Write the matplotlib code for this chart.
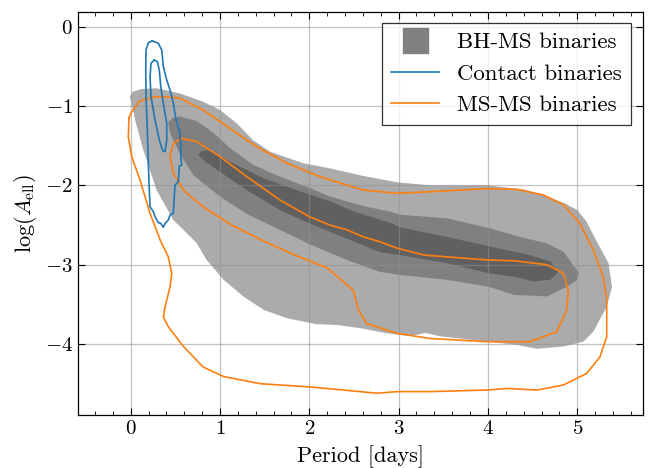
import numpy as np
import matplotlib
matplotlib.use("Agg")
import matplotlib.pyplot as plt
from matplotlib.ticker import MultipleLocator
from matplotlib.lines import Line2D

plt.rcParams['font.family'] = 'serif'
plt.rcParams['font.serif'] = ['cmr10', 'DejaVu Serif']
plt.rcParams['mathtext.fontset'] = 'cm'
plt.rcParams['axes.formatter.use_mathtext'] = True

# ---- contour outlines (Period [days], log A_ell) ----
bh_level1 = [(-0.01, -0.88), (0.02, -0.82), (0.12, -0.785), (0.29, -0.775), (0.55, -0.84),
             (0.81, -0.945), (1.0, -1.05), (1.19, -1.22), (1.37, -1.43), (1.56, -1.575),
             (1.93, -1.72), (2.23, -1.785), (2.6, -1.88), (2.98, -1.96), (3.35, -2.0),
             (3.99, -2.0), (4.4, -2.05), (4.62, -2.12), (4.85, -2.22), (5.0, -2.31),
             (5.1, -2.45), (5.22, -2.71), (5.35, -2.98), (5.39, -3.28), (5.33, -3.53),
             (5.18, -3.845), (5.07, -3.97), (4.85, -4.03), (4.55, -4.06), (4.32, -4.01),
             (3.99, -3.97), (3.6, -3.92), (3.45, -3.9), (3.3, -3.86), (3.13, -3.9),
             (2.87, -3.865), (2.57, -3.80), (2.31, -3.76), (2.08, -3.75), (1.75, -3.675),
             (1.49, -3.57), (1.26, -3.40), (1.04, -3.19), (0.85, -2.94), (0.74, -2.73),
             (0.59, -2.56), (0.48, -2.44), (0.29, -2.06), (0.14, -1.55), (0.05, -1.18),
             (0.01, -0.965)]
bh_level2 = [(0.42, -1.20), (0.47, -1.15), (0.55, -1.13), (0.74, -1.19), (0.93, -1.34),
             (1.11, -1.53), (1.37, -1.74), (1.67, -1.89), (2.0, -2.03), (2.23, -2.14),
             (2.6, -2.26), (2.9, -2.33), (3.02, -2.37), (3.54, -2.415), (4.02, -2.54),
             (4.36, -2.65), (4.66, -2.73), (4.85, -2.84), (4.95, -3.0), (5.02, -3.1),
             (4.99, -3.2), (4.88, -3.28), (4.66, -3.40), (4.29, -3.38), (4.02, -3.28),
             (3.54, -3.19), (3.02, -3.13), (2.79, -3.09), (2.42, -2.94), (2.0, -2.74),
             (1.67, -2.56), (1.30, -2.36), (1.0, -2.14), (0.7, -1.87), (0.55, -1.6),
             (0.44, -1.34)]
bh_level3 = [(0.78, -1.575), (0.87, -1.55), (1.11, -1.70), (1.49, -1.91), (1.86, -2.06),
             (2.23, -2.2), (2.5, -2.33), (2.9, -2.47), (3.02, -2.53), (3.54, -2.65),
             (4.02, -2.77), (4.47, -2.88), (4.70, -2.96), (4.79, -3.09), (4.70, -3.19),
             (4.51, -3.21), (4.29, -3.15), (4.02, -3.11), (3.54, -2.98), (3.02, -2.88),
             (2.79, -2.84), (2.42, -2.67), (2.0, -2.48), (1.67, -2.31), (1.30, -2.06),
             (1.0, -1.83), (0.81, -1.68), (0.76, -1.62)]

contact_outer = [(0.242, -0.179), (0.309, -0.208), (0.347, -0.293), (0.365, -0.503),
                 (0.403, -0.671), (0.44, -0.797), (0.477, -0.965), (0.507, -1.175),
                 (0.544, -1.301), (0.56, -1.469), (0.56, -1.638), (0.571, -1.743),
                 (0.544, -1.755), (0.533, -1.953), (0.496, -1.995), (0.485, -2.184),
                 (0.477, -2.352), (0.44, -2.373), (0.421, -2.436), (0.384, -2.478),
                 (0.365, -2.528), (0.336, -2.478), (0.309, -2.47), (0.272, -2.395),
                 (0.253, -2.332), (0.216, -2.269), (0.208, -2.058), (0.197, -1.721),
                 (0.186, -1.301), (0.171, -0.881), (0.168, -0.545), (0.171, -0.293),
                 (0.197, -0.2)]
contact_inner = [(0.264, -0.419), (0.298, -0.44), (0.32, -0.545), (0.336, -0.755),
                 (0.365, -0.965), (0.403, -1.217), (0.403, -1.427), (0.384, -1.575),
                 (0.358, -1.562), (0.32, -1.427), (0.272, -1.175), (0.227, -0.881),
                 (0.216, -0.629), (0.227, -0.46)]

msms_outer = [(-0.02, -1.15), (0.0, -1.09), (0.10, -0.935), (0.25, -0.889), (0.365, -0.881),
              (0.55, -0.90), (0.81, -1.05), (1.0, -1.196), (1.19, -1.343), (1.41, -1.512),
              (1.75, -1.72), (2.12, -1.89), (2.4, -1.99), (2.605, -2.058), (2.98, -2.10),
              (3.35, -2.08), (3.99, -2.04), (4.32, -2.05), (4.62, -2.12), (4.85, -2.25),
              (5.03, -2.48), (5.18, -2.815), (5.29, -3.15), (5.33, -3.445), (5.33, -3.908),
              (5.255, -4.161), (5.106, -4.37), (4.845, -4.517), (4.547, -4.58), (4.21, -4.56),
              (3.99, -4.58), (3.35, -4.60), (2.98, -4.60), (2.755, -4.62), (2.38, -4.58),
              (2.0, -4.54), (1.45, -4.50), (1.04, -4.41), (0.81, -4.29), (0.59, -4.03),
              (0.42, -3.78), (0.365, -3.656), (0.384, -3.53), (0.44, -3.28), (0.46, -3.11),
              (0.42, -2.90), (0.33, -2.69), (0.216, -2.352), (0.104, -1.932), (0.011, -1.638),
              (-0.027, -1.386)]
msms_inner = [(0.571, -1.406), (0.74, -1.448), (1.0, -1.638), (1.3, -1.89), (1.67, -2.184),
              (2.0, -2.394), (2.23, -2.50), (2.42, -2.56), (2.6, -2.647), (2.79, -2.71),
              (2.98, -2.79), (3.28, -2.878), (3.99, -2.94), (4.29, -2.95), (4.66, -3.0),
              (4.845, -3.109), (4.9, -3.319), (4.883, -3.571), (4.77, -3.845), (4.47, -3.97),
              (3.99, -3.97), (3.35, -3.93), (2.98, -3.865), (2.64, -3.74), (2.55, -3.57),
              (2.49, -3.32), (2.2, -3.04), (1.82, -2.87), (1.485, -2.70), (1.13, -2.50),
              (0.81, -2.27), (0.59, -2.058), (0.477, -1.848), (0.44, -1.638), (0.477, -1.469)]

series_labels = ['BH-MS binaries', 'Contact binaries', 'MS-MS binaries']
x_ticks = [0, 1, 2, 3, 4, 5]
y_ticks = [0, -1, -2, -3, -4]

fill_colors = ['#ababab', '#808080', '#606060']
blue = '#1f77b4'
orange = '#ff7f0e'


def closed(poly):
    a = np.array(poly + [poly[0]])
    return a[:, 0], a[:, 1]


fig = plt.figure(figsize=(6.54, 4.68), dpi=100)
ax = fig.add_axes([0.1188, 0.1132, 0.8639, 0.8618])

for poly, c in zip([bh_level1, bh_level2, bh_level3], fill_colors):
    xs, ys = closed(poly)
    ax.fill(xs, ys, color=c, lw=0, zorder=1)

for poly in [msms_outer, msms_inner]:
    xs, ys = closed(poly)
    ax.plot(xs, ys, color=orange, lw=1.2, zorder=3, solid_joinstyle='round')
for poly in [contact_outer, contact_inner]:
    xs, ys = closed(poly)
    ax.plot(xs, ys, color=blue, lw=1.2, zorder=4, solid_joinstyle='round')

ax.set_xlim(-0.594, 5.733)
ax.set_ylim(-4.895, 0.19)
ax.set_xticks(x_ticks)
ax.set_yticks(y_ticks)
ax.xaxis.set_minor_locator(MultipleLocator(0.2))
ax.tick_params(which='both', direction='in', top=True, right=True, labelsize=15)
ax.tick_params(which='major', length=5, width=0.8)
ax.tick_params(which='minor', length=3, width=0.6)
ax.set_axisbelow(False)
ax.grid(True, which='major', color='#909090', alpha=0.55, lw=0.9, zorder=2)
for s in ax.spines.values():
    s.set_linewidth(0.9)

ax.set_xlabel('Period [days]', fontsize=16, labelpad=5.5)
ax.set_ylabel(r'$\log(A_{\rm ell})$', fontsize=16, labelpad=4)

handles = [Line2D([], [], ls='none', marker='s', ms=18, color='#808080'),
           Line2D([], [], color=blue, lw=1.2),
           Line2D([], [], color=orange, lw=1.2)]
leg = ax.legend(handles, series_labels, loc='upper right', fontsize=16.5,
                fancybox=False, edgecolor='black', framealpha=0.8, handlelength=2.1)
leg.get_frame().set_linewidth(0.9)

fig.savefig('out.png', dpi=100)
